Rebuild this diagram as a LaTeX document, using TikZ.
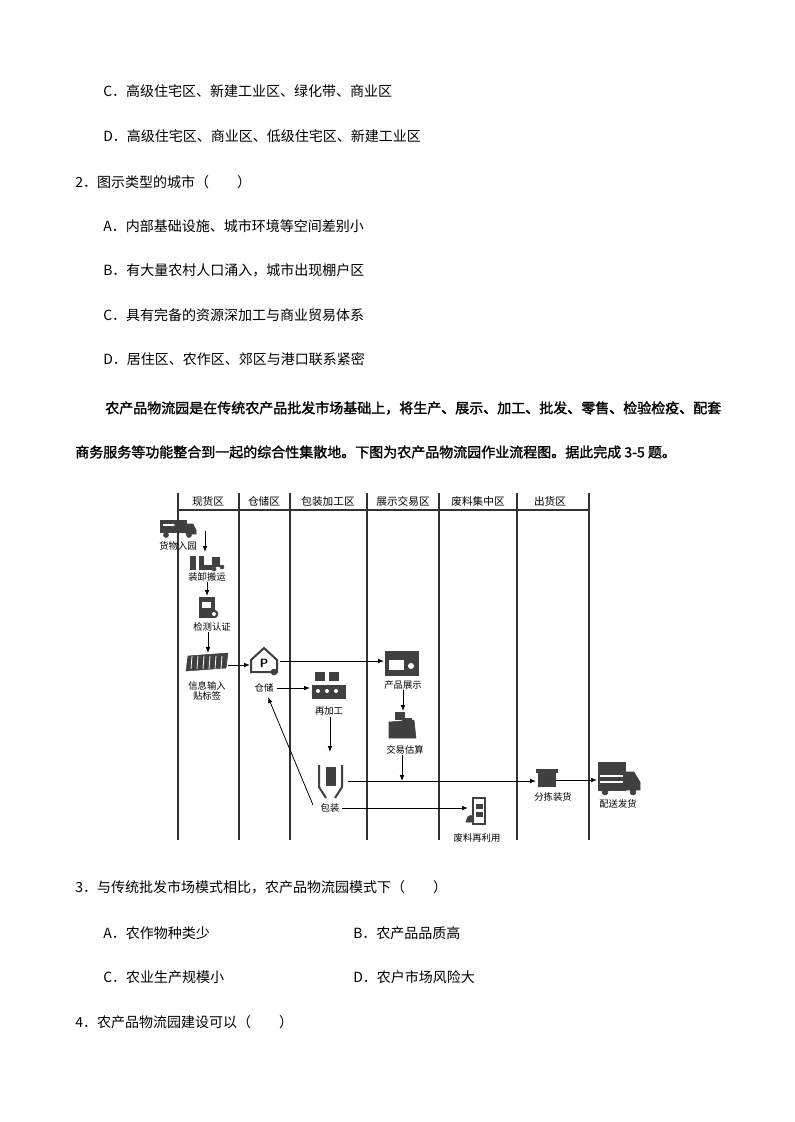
\documentclass[tikz,border=0pt]{standalone}
\usepackage{fontspec}
\newfontfamily\cjk{Noto Sans CJK SC}
\newfontfamily\cjkb[FakeBold=1.5]{Noto Sans CJK SC}
\usetikzlibrary{arrows.meta}
\begin{document}
\begin{tikzpicture}[x=0.75pt,y=-0.75pt,
  txt/.style={anchor=west,inner sep=0,font=\cjk\fontsize{10.5pt}{12pt}\selectfont},
  ptxt/.style={anchor=west,inner sep=0,font=\cjkb\fontsize{10.5pt}{12pt}\selectfont},
  lab/.style={inner sep=0.5pt,font=\cjk\fontsize{7pt}{8pt}\selectfont,align=center},
  hd/.style={inner sep=0,font=\cjk\fontsize{8pt}{9pt}\selectfont},
  lane/.style={line width=0.8pt,black!80},
  flow/.style={line width=0.6pt,-{Latex[length=4.5pt,width=3.5pt]}},
  ic/.style={fill=black!75,draw=black!75}]
\useasboundingbox[fill=white] (0,0) rectangle (794,1122);
% page text
\node[txt] (t1) at (103,91) {C．高级住宅区、新建工业区、绿化带、商业区};
\node[txt] (t2) at (103,136) {D．高级住宅区、商业区、低级住宅区、新建工业区};
\node[txt] (t3) at (75,182) {2．图示类型的城市（　　）};
\node[txt] (t4) at (103,226) {A．内部基础设施、城市环境等空间差别小};
\node[txt] (t5) at (103,270) {B．有大量农村人口涌入，城市出现棚户区};
\node[txt] (t6) at (103,315) {C．具有完备的资源深加工与商业贸易体系};
\node[txt] (t7) at (103,359) {D．居住区、农作区、郊区与港口联系紧密};
\node[ptxt] (p1) at (105,408) {农产品物流园是在传统农产品批发市场基础上，将生产、展示、加工、批发、零售、检验检疫、配套};
\node[ptxt] (p2) at (75,452) {商务服务等功能整合到一起的综合性集散地。下图为农产品物流园作业流程图。据此完成 3-5 题。};
\node[txt] (q3) at (75,887) {3．与传统批发市场模式相比，农产品物流园模式下（　　）};
\node[txt] (q3a) at (103,933) {A．农作物种类少};
\node[txt] (q3b) at (353,933) {B．农产品品质高};
\node[txt] (q3c) at (103,977) {C．农业生产规模小};
\node[txt] (q3d) at (353,977) {D．农户市场风险大};
\node[txt] (q4) at (75,1022) {4．农产品物流园建设可以（　　）};
% lanes
\foreach \x in {178,239,290,367,439,517,589} \draw[lane] (\x,493) -- (\x,840);
\draw[lane] (178,510) -- (590,510);
\node[hd] (h1) at (208,501) {现货区};
\node[hd] (h2) at (264,501) {仓储区};
\node[hd] (h3) at (328,501) {包装加工区};
\node[hd] (h4) at (403,501) {展示交易区};
\node[hd] (h5) at (478,501) {废料集中区};
\node[hd] (h6) at (550,501) {出货区};
% icons
% truck in
\fill[ic] (160,520) rectangle (186,532); \fill[ic] (186,524) -- (193,524) -- (196,530) -- (196,534) -- (186,534) -- cycle;
\fill[ic] (166,535) circle (2.5); \fill[ic] (189,535) circle (2.5);
\draw[white,line width=1pt,-{Latex[length=3pt]}] (163,525) -- (176,525);
\node[lab] (n1) at (178,546) {货物入园};
% loading
\fill[ic] (190,556) rectangle (195,569); \fill[ic] (199,556) rectangle (203,569); \fill[ic] (203,565) rectangle (211,569);
\fill[ic] (212,557) rectangle (219,566); \fill[ic] (214,569) circle (2); \fill[ic] (222,567) circle (2);
\node[lab] (n2) at (207,577) {装卸搬运};
% inspection
\fill[ic] (199,597) rectangle (214,617); \fill[white] (202,602) rectangle (211,608);
\fill[ic] (214,614) circle (4); \fill[white] (214,614) circle (2);
\node[lab] (n3) at (212,627) {检测认证};
% info input
\fill[ic] (188,656) -- (228,653) -- (226,668) -- (186,671) -- cycle;
\foreach \x in {192,198,204,210,216,222} \draw[white,line width=0.6pt] (\x,656) -- (\x-1,669);
\node[lab] (n4) at (207,691) {信息输入\\贴标签};
% storage
\draw[ic,fill=none,line width=1.5pt] (251,660) -- (264,648) -- (277,660) -- (277,672) -- (251,672) -- cycle;
\node[inner sep=0,font=\bfseries\sffamily\small] at (264,663) {P};
\fill[ic] (274,672) circle (3);
\node[lab] (n5) at (264,688) {仓储};
% reprocess
\foreach \x in {315,329} \fill[ic] (\x,672) rectangle (\x+9,680);
\fill[ic] (312,685) rectangle (345,698);
\foreach \x in {318,327,336} \fill[white] (\x,691) circle (2);
\node[lab] (n6) at (329,711) {再加工};
% display
\fill[ic] (385,651) rectangle (418,675); \fill[white] (389,660) rectangle (404,670);
\fill[white] (411,666) circle (3);
\node[lab] (n7) at (403,685) {产品展示};
% trade
\fill[ic] (389,722) -- (414,720) -- (416,738) -- (389,738) -- cycle;
\fill[ic] (395,712) rectangle (404,719); \fill[ic] (402,718) rectangle (411,726);
\node[lab] (n8) at (405,750) {交易估算};
% packaging
\fill[ic] (326,767) rectangle (335,785);
\draw[ic,fill=none,line width=1.5pt] (319,765) -- (319,787) -- (326,798);
\draw[ic,fill=none,line width=1.5pt] (342,765) -- (342,787) -- (335,798);
\node[lab] (n9) at (330,808) {包装};
% waste
\draw[ic,fill=none,line width=1.5pt] (473,798) rectangle (485,824);
\fill[ic] (476,804) rectangle (482,808); \fill[ic] (476,812) rectangle (482,816);
\fill[ic] (466,822) .. controls (468,812) and (474,814) .. (474,822) -- cycle;
\node[lab] (n10) at (477,838) {废料再利用};
% sorting
\fill[ic] (538,771) rectangle (555,786); \fill[ic] (536,769) rectangle (557,772);
\node[lab] (n11) at (553,797) {分拣装货};
% delivery
\fill[ic] (598,762) rectangle (625,790); \fill[ic] (625,772) -- (634,772) -- (640,782) -- (640,790) -- (625,790) -- cycle;
\fill[ic] (605,792) circle (3); \fill[ic] (633,792) circle (3);
\draw[white,line width=0.8pt] (600,776) -- (623,776) (600,782) -- (623,782);
\node[lab] (n12) at (618,804) {配送发货};
% connector anchors
\coordinate (c1) at (205,531); \coordinate (c2) at (205,552);
\coordinate (c3) at (207,582); \coordinate (c4) at (207,596);
\coordinate (c5) at (208,632); \coordinate (c6) at (208,653);
\coordinate (c7) at (228,665); \coordinate (c8) at (250,665);
\coordinate (c9) at (280,661); \coordinate (c10) at (384,661);
\coordinate (c11) at (277,688); \coordinate (c12) at (310,688);
\coordinate (c13) at (330,717); \coordinate (c14) at (330,752);
\coordinate (c15) at (403,690); \coordinate (c16) at (403,711);
\coordinate (c17) at (402,755); \coordinate (c18) at (402,781);
\coordinate (c19) at (348,781); \coordinate (c20) at (536,781);
\coordinate (c21) at (556,780); \coordinate (c22) at (597,780);
\coordinate (c23) at (342,808); \coordinate (c24) at (468,808);
\coordinate (c25) at (313,805); \coordinate (c26) at (268,697);
\draw[flow] (c1) -- (c2);
\draw[flow] (c3) -- (c4);
\draw[flow] (c5) -- (c6);
\draw[flow] (c7) -- (c8);
\draw[flow] (c9) -- (c10);
\draw[flow] (c11) -- (c12);
\draw[flow] (c13) -- (c14);
\draw[flow] (c15) -- (c16);
\draw[flow] (c17) -- (c18);
\draw[flow] (c19) -- (c20);
\draw[flow] (c21) -- (c22);
\draw[flow] (c23) -- (c24);
\draw[flow] (c25) -- (c26);
\end{tikzpicture}
\end{document}
